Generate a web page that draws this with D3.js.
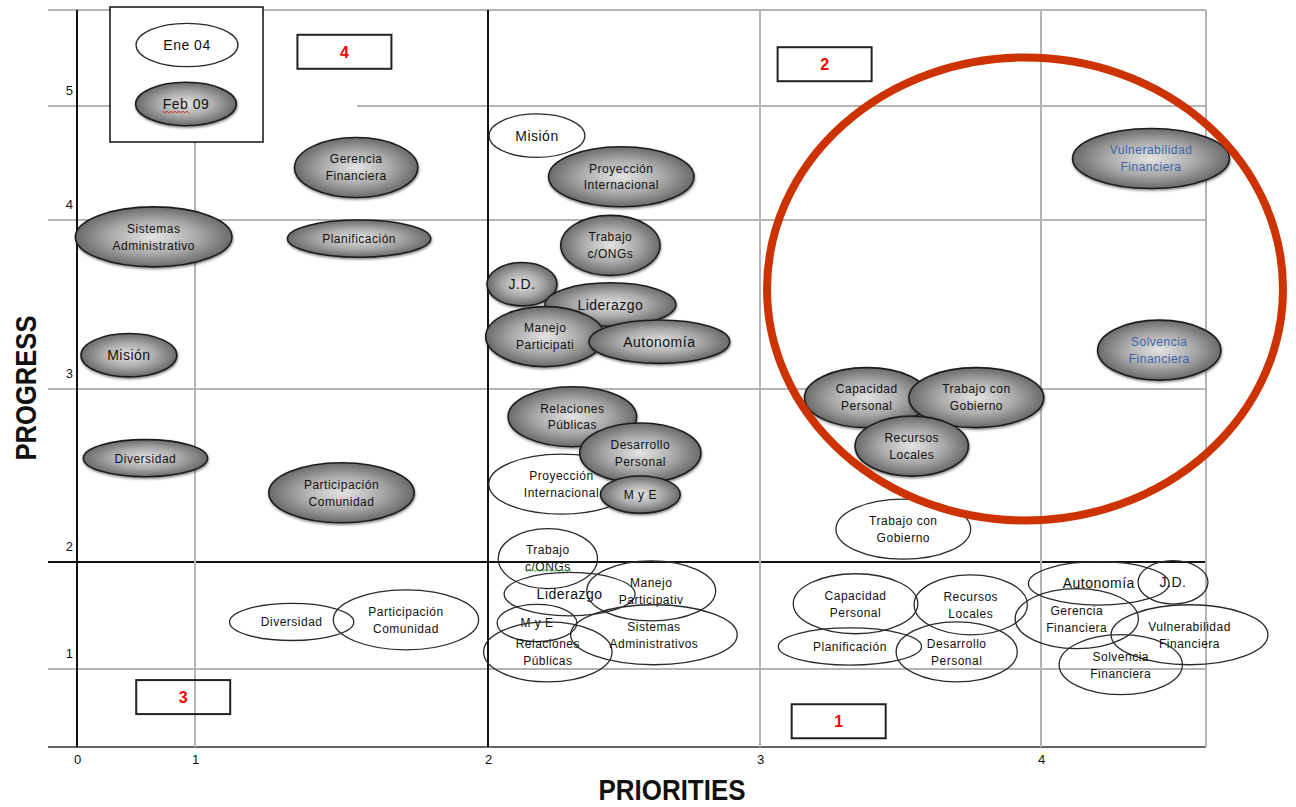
<!DOCTYPE html>
<html>
<head>
<meta charset="utf-8">
<script src="https://cdn.jsdelivr.net/npm/d3@7"></script>
<style>
body { margin: 0; background: #fff; }
svg { display: block; font-family: "Liberation Sans", Arial, sans-serif; }
</style>
</head>
<body>
<div id="wrapper"></div>
<script>
// axis ticks
const xTicks = [0, 1, 2, 3, 4];
const yTicks = [1, 2, 3, 4, 5];

// Ene 04 (outline bubbles)
const eneLabels = ["Misión", "Proyección\nInternacional", "Trabajo con\nGobierno", "Trabajo\nc/ONGs", "Liderazgo",
    "Manejo\nParticipativ", "M y E", "Relaciones\nPúblicas", "Sistemas\nAdministrativos", "Diversidad",
    "Participación\nComunidad", "Capacidad\nPersonal", "Recursos\nLocales", "Planificación", "Desarrollo\nPersonal",
    "Autonomía", "J.D.", "Gerencia\nFinanciera", "Vulnerabilidad\nFinanciera", "Solvencia\nFinanciera"];
const enePriority = [2.18, 2.27, 3.51, 2.22, 2.30, 2.60, 2.18, 2.22, 2.61, 1.33, 1.72, 3.34, 3.75, 3.32, 3.70, 4.21, 4.48, 4.13, 4.54, 4.29];
const eneProgress = [4.74, 2.45, 2.19, 2.02, 1.70, 1.73, 1.43, 1.16, 1.32, 1.44, 1.46, 1.61, 1.60, 1.21, 1.16, 1.80, 1.81, 1.47, 1.32, 1.04];

// Feb 09 (shaded bubbles)
const febLabels = ["Gerencia\nFinanciera", "Sistemas\nAdministrativo", "Planificación", "Misión", "Diversidad",
    "Participación\nComunidad", "Proyección\nInternacional", "Trabajo\nc/ONGs", "J.D.", "Liderazgo",
    "Manejo\nParticipati", "Autonomía", "Relaciones\nPúblicas", "Desarrollo\nPersonal", "M y E",
    "Capacidad\nPersonal", "Trabajo con\nGobierno", "Recursos\nLocales", "Vulnerabilidad\nFinanciera", "Solvencia\nFinanciera"];
const febPriority = [1.55, 0.65, 1.56, 0.44, 0.58, 1.50, 2.49, 2.45, 2.125, 2.45, 2.21, 2.63, 2.31, 2.56, 2.56, 3.38, 3.77, 3.54, 4.40, 4.43];
const febProgress = [4.46, 3.90, 3.89, 3.20, 2.60, 2.40, 4.38, 3.85, 3.62, 3.50, 3.31, 3.28, 2.84, 2.63, 2.39, 2.95, 2.95, 2.67, 4.54, 3.23];

// quadrant tags
const quadLabels = ["4", "2", "3", "1"];
const quadPriority = [1.51, 3.23, 0.90, 3.28];
const quadProgress = [5.48, 5.37, 0.64, 0.33];

// highlighted zone (red ring), bounds in data units
const ringPriority = [3.025, 4.88];
const ringProgress = [2.24, 5.43];

const bigLabels = ["Misión", "Liderazgo", "Autonomía", "J.D.", "Ene 04", "Feb 09"];

var width = 1296, height = 807;

// the scanned chart has uneven spacing between ticks
const x = d3.scaleLinear().domain([0, 1, 2, 3, 4, 4.6]).range([77, 195, 488, 760, 1041, 1206]);
const y = d3.scaleLinear().domain([0, 1, 2, 3, 4, 5, 5.85]).range([747, 669, 562, 389, 220, 106, 10]);

const svg = d3.select("#wrapper")
    .append("svg")
    .attr("width", width)
    .attr("height", height);

const defs = svg.append("defs");
const grad = defs.append("radialGradient").attr("id", "shade")
    .attr("cx", "50%").attr("cy", "50%").attr("r", "50%");
grad.append("stop").attr("offset", "0%").attr("stop-color", "#e4e4e4");
grad.append("stop").attr("offset", "55%").attr("stop-color", "#ababab");
grad.append("stop").attr("offset", "100%").attr("stop-color", "#6a6a6a");
defs.append("filter").attr("id", "drop")
    .attr("x", "-10%").attr("y", "-10%").attr("width", "120%").attr("height", "130%")
    .append("feDropShadow")
    .attr("dx", 0.5).attr("dy", 1.5).attr("stdDeviation", 0.8)
    .attr("flood-color", "#333").attr("flood-opacity", 0.6);

// grid
const xMax = d3.max(x.domain()), yMax = d3.max(y.domain());
const grid = svg.append("g");
grid.selectAll("line.h")
    .data([0, 1, 2, 3, 4, 5, yMax])
    .enter()
    .append("line")
    .attr("x1", 48)
    .attr("x2", x(xMax))
    .attr("y1", d => y(d))
    .attr("y2", d => y(d))
    .attr("stroke", d => d == 2 ? "#111" : (d == 0 ? "#666" : "#b4b4b4"))
    .attr("stroke-width", 2);
grid.selectAll("line.v")
    .data([0, 1, 2, 3, 4, xMax])
    .enter()
    .append("line")
    .attr("x1", d => x(d))
    .attr("x2", d => x(d))
    .attr("y1", y(yMax))
    .attr("y2", y(0))
    .attr("stroke", d => (d == 2 || d == 0) ? "#111" : "#b4b4b4")
    .attr("stroke-width", 2);

// tick labels
const xAxis = svg.append("g")
    .attr("transform", `translate(0,${y(0)})`)
    .call(d3.axisBottom(x).tickValues(xTicks).tickFormat(d3.format("d")).tickSize(0).tickPadding(8));
const yAxis = svg.append("g")
    .attr("transform", "translate(73,0)")
    .call(d3.axisLeft(y).tickValues(yTicks).tickFormat(d3.format("d")).tickSize(0).tickPadding(0));
[xAxis, yAxis].forEach(a => {
    a.select(".domain").remove();
    a.selectAll("text").style("font-size", "13px").style("font-family", "'Liberation Sans', Arial, sans-serif").attr("fill", "#111");
});
yAxis.selectAll("text").attr("dy", "-0.9em");

// quadrant tags
svg.append("g")
    .selectAll("g")
    .data(quadLabels.map((q, i) => ({ label: q, x: quadPriority[i], y: quadProgress[i] })))
    .enter()
    .append("g")
    .attr("transform", d => `translate(${x(d.x)},${y(d.y)})`)
    .each(function(d) {
        const g = d3.select(this);
        g.append("rect").attr("x", -47).attr("y", -17).attr("width", 94).attr("height", 34)
            .attr("fill", "none").attr("stroke", "#222").attr("stroke-width", 2);
        g.append("text").attr("text-anchor", "middle").attr("y", 6)
            .style("font-size", "16px").style("font-weight", "bold").attr("fill", "#ff0000").text(d.label);
    });

function squiggle(parent, x0, x1, yy, color) {
    var p = d3.path();
    p.moveTo(x0, yy);
    for (let xx = x0, k = 0; xx < x1; xx += 2, k++) p.lineTo(xx + 2, yy + (k % 2 ? 0 : 2));
    parent.append("path").attr("d", p.toString()).attr("fill", "none").attr("stroke", color).attr("stroke-width", 1);
}

function bubble(g, d, filled) {
    const fs = bigLabels.includes(d.label) ? 14 : 12;
    const lines = d.label.split("\n");
    const ell = g.append("ellipse")
        .attr("fill", filled ? "url(#shade)" : "none")
        .attr("stroke", filled ? "#1e1e1e" : "#2a2a2a")
        .attr("stroke-width", filled ? 1.6 : 1.3);
    if (filled) ell.attr("filter", "url(#drop)");
    const txt = g.append("text")
        .attr("text-anchor", "middle")
        .style("font-size", fs + "px")
        .style("letter-spacing", "0.5px")
        .attr("fill", filled && d.x > 4 ? "#3f64a8" : "#111");
    lines.forEach((l, i) => {
        txt.append("tspan").attr("x", 0)
            .attr("y", (i - (lines.length - 1) / 2) * 17 + fs * 0.36)
            .text(l);
    });
    const w = d3.max(txt.selectAll("tspan").nodes(), n => n.getComputedTextLength());
    ell.attr("rx", 0.78 * w + 14).attr("ry", lines.length > 1 ? 30 : fs * 1.55);
    return txt;
}

// Ene 04 first, Feb 09 on top
const ene = eneLabels.map((l, i) => ({ label: l, x: enePriority[i], y: eneProgress[i] }));
const feb = febLabels.map((l, i) => ({ label: l, x: febPriority[i], y: febProgress[i] }));

svg.append("g").selectAll("g")
    .data(ene)
    .enter()
    .append("g")
    .attr("transform", d => `translate(${x(d.x)},${y(d.y)})`)
    .each(function(d) {
        const t = bubble(d3.select(this), d, false);
        if (d.label == "Trabajo\nc/ONGs") {
            const sp = t.select("tspan:nth-child(2)").node();
            const w = sp.getComputedTextLength();
            squiggle(d3.select(this), -w / 2, w / 2, 11, "#3a9a3a");
        }
    });

svg.append("g").selectAll("g")
    .data(feb)
    .enter()
    .append("g")
    .attr("transform", d => `translate(${x(d.x)},${y(d.y)})`)
    .each(function(d) { bubble(d3.select(this), d, true); });

// legend
const legend = svg.append("g");
legend.append("rect").attr("x", 263).attr("y", 97).attr("width", 94).attr("height", 18).attr("fill", "#fff");
legend.append("rect").attr("x", 110).attr("y", 7).attr("width", 153).attr("height", 135)
    .attr("fill", "#fff").attr("stroke", "#111").attr("stroke-width", 1.5);
const le = legend.append("g").attr("transform", "translate(187,45)");
bubble(le, { label: "Ene 04", x: 0 }, false);
le.select("ellipse").attr("fill", "#fff");
const lf = legend.append("g").attr("transform", "translate(186,104)");
const lt = bubble(lf, { label: "Feb 09", x: 0 }, true);
const fw = lt.select("tspan").node().getComputedTextLength();
const fsub = lt.select("tspan").node().getSubStringLength(0, 3);
squiggle(lf, -fw / 2, -fw / 2 + fsub, 7, "#e02020");

// highlighted zone
svg.append("ellipse")
    .attr("cx", (x(ringPriority[0]) + x(ringPriority[1])) / 2)
    .attr("cy", (y(ringProgress[0]) + y(ringProgress[1])) / 2)
    .attr("rx", (x(ringPriority[1]) - x(ringPriority[0])) / 2)
    .attr("ry", (y(ringProgress[0]) - y(ringProgress[1])) / 2)
    .attr("fill", "none")
    .attr("stroke", "#cc3300")
    .attr("stroke-width", 8);

// axis titles
svg.append("text")
    .attr("x", 672).attr("y", 800)
    .attr("text-anchor", "middle")
    .attr("textLength", 147).attr("lengthAdjust", "spacingAndGlyphs")
    .style("font-family", "'Liberation Sans Narrow', 'Liberation Sans', Arial, sans-serif")
    .style("font-size", "29px").style("font-weight", "bold")
    .attr("fill", "#111")
    .text("PRIORITIES");
svg.append("text")
    .attr("transform", "translate(36,388) rotate(-90)")
    .attr("text-anchor", "middle")
    .attr("textLength", 145).attr("lengthAdjust", "spacingAndGlyphs")
    .style("font-family", "'Liberation Sans Narrow', 'Liberation Sans', Arial, sans-serif")
    .style("font-size", "30px").style("font-weight", "bold")
    .attr("fill", "#111")
    .text("PROGRESS");
</script>
</body>
</html>
